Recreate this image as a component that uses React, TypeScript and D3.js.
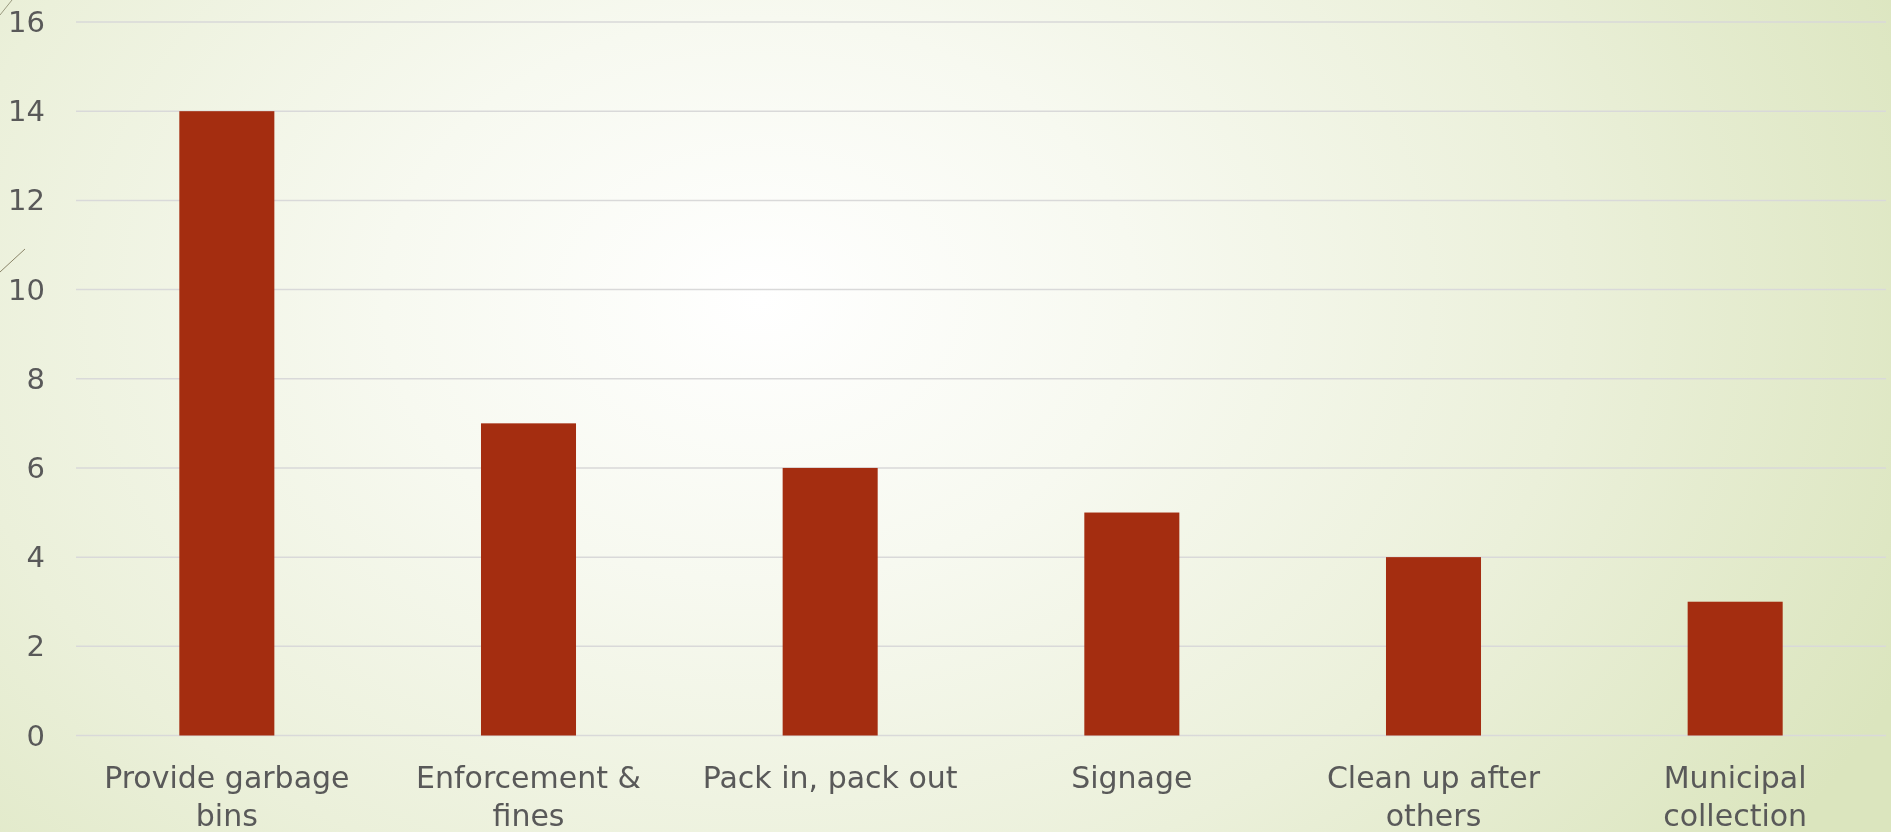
import React from "react";
import * as d3 from "d3";

const categories = [
  "Provide garbage bins",
  "Enforcement & fines",
  "Pack in, pack out",
  "Signage",
  "Clean up after others",
  "Municipal collection",
];
const categoryLines = [
  ["Provide garbage", "bins"],
  ["Enforcement &", "fines"],
  ["Pack in, pack out"],
  ["Signage"],
  ["Clean up after", "others"],
  ["Municipal", "collection"],
];
const values = [14, 7, 6, 5, 4, 3];
const yTicks = [0, 2, 4, 6, 8, 10, 12, 14, 16];

const W = 1891;
const H = 832;
const M = { left: 76, right: 5, top: 22, bottom: 96.5 };

export default function App() {
  const x = d3
    .scaleBand<string>()
    .domain(categories)
    .range([M.left, W - M.right])
    .paddingInner(0.685)
    .paddingOuter(0.3425);
  const y = d3.scaleLinear().domain([0, 16]).range([H - M.bottom, M.top]);
  const font = "'DejaVu Sans', 'Open Sans', sans-serif";
  const textColor = "#595959";

  return (
    <div style={{ position: "fixed", left: 0, top: 0, width: W, height: H }}>
      <svg width={W} height={H} style={{ display: "block" }}>
        <defs>
          <radialGradient
            id="bg"
            cx="760"
            cy="300"
            r="1250"
            gradientUnits="userSpaceOnUse"
            gradientTransform="translate(760 300) scale(1 0.75) translate(-760 -300)"
          >
            <stop offset="0" stopColor="#ffffff" />
            <stop offset="0.3" stopColor="#f7f9f0" />
            <stop offset="0.65" stopColor="#ebf0da" />
            <stop offset="1" stopColor="#dbe5be" />
          </radialGradient>
        </defs>
        <rect x={0} y={0} width={W} height={H} fill="url(#bg)" />
        {/* decorative slide lines */}
        <line x1={0} y1={15} x2={12} y2={0} stroke="#9a9a80" strokeWidth={1} />
        <line x1={0} y1={272} x2={25} y2={249} stroke="#8a8468" strokeWidth={1} />

        {yTicks.map((t) => (
          <g key={t}>
            <line
              x1={M.left}
              x2={W - M.right}
              y1={y(t)}
              y2={y(t)}
              stroke="#d9d9d9"
              strokeWidth={1.5}
            />
            <text
              x={45}
              y={y(t)}
              textAnchor="end"
              dominantBaseline="central"
              fontFamily={font}
              fontSize={29}
              fill={textColor}
            >
              {t}
            </text>
          </g>
        ))}

        {categories.map((c, i) => (
          <rect
            key={c}
            x={x(c)}
            y={y(values[i])}
            width={x.bandwidth()}
            height={y(0) - y(values[i])}
            fill="#a42d10"
          />
        ))}

        {categories.map((c, i) => (
          <text
            key={c}
            x={(x(c) as number) + x.bandwidth() / 2}
            y={788}
            textAnchor="middle"
            fontFamily={font}
            fontSize={30}
            fill={textColor}
          >
            {categoryLines[i].map((ln, j) => (
              <tspan key={j} x={(x(c) as number) + x.bandwidth() / 2} dy={j === 0 ? 0 : 38}>
                {ln}
              </tspan>
            ))}
          </text>
        ))}
      </svg>
    </div>
  );
}
